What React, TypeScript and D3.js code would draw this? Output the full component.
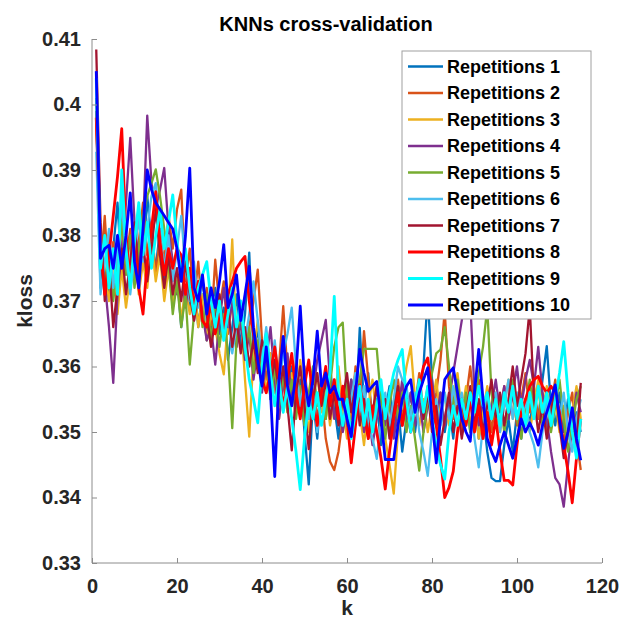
import { useEffect, useRef } from "react";
import * as d3 from "d3";

const TITLE = "KNNs cross-validation";
const X_LABEL = "k";
const Y_LABEL = "kloss";
const X_TICKS = [0, 20, 40, 60, 80, 100, 120];
const Y_TICKS = [0.33, 0.34, 0.35, 0.36, 0.37, 0.38, 0.39, 0.4, 0.41];

const SERIES_NAMES = [
  "Repetitions 1", "Repetitions 2", "Repetitions 3", "Repetitions 4", "Repetitions 5",
  "Repetitions 6", "Repetitions 7", "Repetitions 8", "Repetitions 9", "Repetitions 10",
];
const SERIES_COLORS = [
  "#0072BD", "#D95319", "#EDB120", "#7E2F8E", "#77AC30",
  "#4DBEEE", "#A2142F", "#FF0000", "#00FFFF", "#0000FF",
];

// kloss for k = 1..115, one array per repetition
const rep1 = [
  0.398, 0.372, 0.381, 0.371, 0.378, 0.385, 0.374, 0.380, 0.372, 0.378,
  0.383, 0.376, 0.386, 0.379, 0.375, 0.381, 0.372, 0.377, 0.369, 0.374,
  0.366, 0.372, 0.369, 0.374, 0.366, 0.371, 0.364, 0.369, 0.372, 0.365,
  0.369, 0.361, 0.366, 0.371, 0.363, 0.368, 0.3774, 0.362, 0.366, 0.358,
  0.363, 0.355, 0.361, 0.357, 0.364, 0.356, 0.360, 0.353, 0.358, 0.350,
  0.342, 0.355, 0.349, 0.357, 0.352, 0.360, 0.354, 0.349, 0.356, 0.351,
  0.358, 0.352, 0.3659, 0.354, 0.359, 0.351, 0.355, 0.348, 0.353, 0.357,
  0.350, 0.354, 0.347, 0.352, 0.356, 0.350, 0.355, 0.360, 0.371, 0.358,
  0.351, 0.356, 0.350, 0.354, 0.349, 0.355, 0.351, 0.356, 0.350, 0.355,
  0.349, 0.353, 0.347, 0.343, 0.3425, 0.3425, 0.348, 0.352, 0.347, 0.353,
  0.349, 0.355, 0.351, 0.356, 0.352, 0.358, 0.3631, 0.354, 0.351, 0.356,
  0.350, 0.355, 0.349, 0.353, 0.350,
];
const rep2 = [
  0.399, 0.375, 0.383, 0.372, 0.379, 0.371, 0.384, 0.376, 0.381, 0.373,
  0.379, 0.385, 0.377, 0.382, 0.374, 0.380, 0.376, 0.383, 0.378, 0.384,
  0.387, 0.373, 0.378, 0.370, 0.376, 0.368, 0.372, 0.366, 0.3763, 0.369,
  0.373, 0.365, 0.370, 0.363, 0.368, 0.361, 0.366, 0.370, 0.3748, 0.364,
  0.358, 0.362, 0.356, 0.360, 0.3692, 0.359, 0.354, 0.361, 0.355, 0.360,
  0.353, 0.358, 0.352, 0.356, 0.349, 0.3455, 0.3442, 0.347, 0.352, 0.357,
  0.352, 0.360, 0.355, 0.3654, 0.358, 0.352, 0.357, 0.351, 0.355, 0.350,
  0.354, 0.358, 0.352, 0.356, 0.350, 0.354, 0.359, 0.353, 0.357, 0.352,
  0.356, 0.361, 0.3685, 0.357, 0.352, 0.356, 0.350, 0.355, 0.360, 0.354,
  0.358, 0.352, 0.356, 0.350, 0.355, 0.353, 0.357, 0.352, 0.356, 0.351,
  0.355, 0.359, 0.353, 0.357, 0.352, 0.356, 0.350, 0.354, 0.358, 0.352,
  0.348, 0.353, 0.356, 0.349, 0.3442,
];
const rep3 = [
  0.397, 0.381, 0.374, 0.370, 0.377, 0.368, 0.375, 0.369, 0.374, 0.378,
  0.371, 0.376, 0.372, 0.379, 0.373, 0.377, 0.370, 0.375, 0.369, 0.374,
  0.367, 0.372, 0.368, 0.373, 0.366, 0.371, 0.364, 0.368, 0.366, 0.362,
  0.3588, 0.367, 0.3794, 0.364, 0.368, 0.358, 0.3493, 0.362, 0.367, 0.361,
  0.356, 0.362, 0.357, 0.352, 0.358, 0.353, 0.359, 0.355, 0.361, 0.356,
  0.350, 0.355, 0.359, 0.353, 0.357, 0.351, 0.355, 0.360, 0.354, 0.349,
  0.355, 0.359, 0.353, 0.348, 0.354, 0.358, 0.352, 0.356, 0.349, 0.345,
  0.3406, 0.350, 0.356, 0.360, 0.3631, 0.355, 0.351, 0.355, 0.350, 0.354,
  0.358, 0.352, 0.356, 0.351, 0.355, 0.359, 0.353, 0.357, 0.351, 0.355,
  0.349, 0.353, 0.357, 0.352, 0.356, 0.350, 0.354, 0.358, 0.352, 0.356,
  0.351, 0.355, 0.350, 0.354, 0.358, 0.353, 0.357, 0.351, 0.355, 0.350,
  0.354, 0.349, 0.353, 0.357, 0.352,
];
const rep4 = [
  0.399, 0.380, 0.373, 0.366, 0.3575, 0.371, 0.378, 0.385, 0.3949, 0.382,
  0.376, 0.381, 0.3983, 0.388, 0.384, 0.387, 0.3903, 0.381, 0.376, 0.371,
  0.376, 0.369, 0.374, 0.367, 0.372, 0.368, 0.364, 0.366, 0.3603, 0.367,
  0.372, 0.366, 0.370, 0.363, 0.367, 0.361, 0.365, 0.358, 0.363, 0.356,
  0.361, 0.366, 0.358, 0.352, 0.357, 0.362, 0.355, 0.359, 0.353, 0.357,
  0.352, 0.356, 0.361, 0.364, 0.3671, 0.358, 0.352, 0.356, 0.350, 0.354,
  0.358, 0.352, 0.356, 0.350, 0.353, 0.348, 0.352, 0.357, 0.351, 0.355,
  0.349, 0.353, 0.358, 0.352, 0.356, 0.351, 0.355, 0.350, 0.354, 0.358,
  0.352, 0.356, 0.351, 0.355, 0.359, 0.363, 0.367, 0.371, 0.370, 0.356,
  0.351, 0.355, 0.350, 0.354, 0.358, 0.353, 0.357, 0.352, 0.356, 0.360,
  0.354, 0.358, 0.361, 0.357, 0.363, 0.356, 0.352, 0.347, 0.343, 0.342,
  0.3386, 0.345, 0.351, 0.356, 0.353,
];
const rep5 = [
  0.401, 0.378, 0.372, 0.379, 0.370, 0.376, 0.382, 0.374, 0.380, 0.372,
  0.378, 0.383, 0.386, 0.388, 0.3901, 0.386, 0.381, 0.376, 0.368, 0.373,
  0.366, 0.371, 0.3603, 0.368, 0.373, 0.366, 0.371, 0.364, 0.369, 0.363,
  0.368, 0.362, 0.3506, 0.364, 0.369, 0.362, 0.366, 0.359, 0.364, 0.357,
  0.362, 0.355, 0.360, 0.354, 0.359, 0.353, 0.358, 0.352, 0.357, 0.351,
  0.356, 0.360, 0.354, 0.358, 0.352, 0.357, 0.363, 0.366, 0.3667, 0.355,
  0.350, 0.356, 0.358, 0.3627, 0.3627, 0.3627, 0.3627, 0.355, 0.349, 0.354,
  0.358, 0.352, 0.356, 0.350, 0.354, 0.349, 0.3441, 0.350, 0.355, 0.359,
  0.362, 0.3626, 0.366, 0.360, 0.354, 0.358, 0.352, 0.356, 0.350, 0.354,
  0.359, 0.363, 0.369, 0.356, 0.351, 0.355, 0.350, 0.354, 0.358, 0.352,
  0.349, 0.354, 0.358, 0.353, 0.357, 0.351, 0.355, 0.350, 0.354, 0.358,
  0.352, 0.347, 0.351, 0.355, 0.357,
];
const rep6 = [
  0.3928, 0.371, 0.376, 0.381, 0.372, 0.378, 0.385, 0.377, 0.371, 0.377,
  0.383, 0.376, 0.381, 0.386, 0.388, 0.380, 0.375, 0.380, 0.373, 0.378,
  0.383, 0.375, 0.370, 0.376, 0.369, 0.373, 0.367, 0.372, 0.365, 0.370,
  0.364, 0.369, 0.362, 0.366, 0.370, 0.364, 0.368, 0.373, 0.367, 0.361,
  0.366, 0.359, 0.364, 0.357, 0.362, 0.365, 0.369, 0.360, 0.354, 0.359,
  0.352, 0.357, 0.350, 0.355, 0.359, 0.353, 0.358, 0.352, 0.356, 0.351,
  0.355, 0.359, 0.353, 0.357, 0.351, 0.349, 0.3459, 0.352, 0.356, 0.351,
  0.355, 0.360, 0.358, 0.357, 0.352, 0.356, 0.350, 0.347, 0.3433, 0.350,
  0.355, 0.351, 0.356, 0.352, 0.357, 0.353, 0.356, 0.351, 0.355, 0.349,
  0.3446, 0.351, 0.355, 0.352, 0.356, 0.350, 0.354, 0.358, 0.352, 0.356,
  0.351, 0.355, 0.350, 0.348, 0.3446, 0.350, 0.355, 0.351, 0.356, 0.352,
  0.356, 0.350, 0.347, 0.352, 0.355,
];
const rep7 = [
  0.4084, 0.382, 0.370, 0.376, 0.366, 0.372, 0.378, 0.371, 0.376, 0.382,
  0.374, 0.379, 0.373, 0.378, 0.384, 0.377, 0.372, 0.377, 0.371, 0.375,
  0.370, 0.376, 0.371, 0.367, 0.371, 0.3733, 0.368, 0.363, 0.367, 0.371,
  0.365, 0.369, 0.363, 0.367, 0.362, 0.366, 0.360, 0.364, 0.359, 0.364,
  0.362, 0.357, 0.361, 0.356, 0.360, 0.354, 0.3472, 0.356, 0.360, 0.354,
  0.3474, 0.355, 0.359, 0.354, 0.358, 0.352, 0.356, 0.351, 0.355, 0.359,
  0.353, 0.357, 0.351, 0.355, 0.349, 0.353, 0.357, 0.351, 0.355, 0.349,
  0.353, 0.357, 0.351, 0.355, 0.350, 0.354, 0.358, 0.352, 0.356, 0.350,
  0.354, 0.348, 0.352, 0.356, 0.350, 0.354, 0.349, 0.353, 0.357, 0.351,
  0.355, 0.350, 0.354, 0.358, 0.352, 0.356, 0.351, 0.355, 0.360, 0.354,
  0.358, 0.362, 0.369, 0.355, 0.350, 0.354, 0.349, 0.353, 0.357, 0.351,
  0.346, 0.350, 0.353, 0.348, 0.3575,
];
const rep8 = [
  0.398, 0.378, 0.371, 0.377, 0.383, 0.389, 0.3963, 0.380, 0.373, 0.379,
  0.372, 0.368, 0.376, 0.381, 0.3867, 0.379, 0.374, 0.378, 0.375, 0.378,
  0.377, 0.371, 0.375, 0.369, 0.373, 0.367, 0.366, 0.370, 0.365, 0.368,
  0.366, 0.371, 0.373, 0.375, 0.376, 0.3768, 0.370, 0.365, 0.361, 0.358,
  0.356, 0.359, 0.363, 0.358, 0.354, 0.358, 0.362, 0.356, 0.352, 0.357,
  0.361, 0.355, 0.351, 0.356, 0.360, 0.354, 0.358, 0.352, 0.357, 0.352,
  0.3453, 0.351, 0.3572, 0.353, 0.349, 0.354, 0.350, 0.346, 0.3413, 0.347,
  0.352, 0.356, 0.351, 0.355, 0.350, 0.354, 0.357, 0.360, 0.3613, 0.356,
  0.351, 0.346, 0.340, 0.3415, 0.344, 0.350, 0.355, 0.351, 0.355, 0.350,
  0.354, 0.349, 0.353, 0.348, 0.352, 0.347, 0.3426, 0.3426, 0.3419, 0.348,
  0.353, 0.355, 0.357, 0.358, 0.3585, 0.357, 0.356, 0.357, 0.356, 0.353,
  0.348, 0.344, 0.3392, 0.346, 0.352,
];
const rep9 = [
  0.404, 0.375, 0.380, 0.372, 0.378, 0.371, 0.390, 0.378, 0.372, 0.379,
  0.385, 0.377, 0.382, 0.375, 0.380, 0.384, 0.378, 0.382, 0.3862, 0.379,
  0.374, 0.378, 0.372, 0.368, 0.372, 0.374, 0.376, 0.370, 0.366, 0.370,
  0.364, 0.368, 0.372, 0.366, 0.370, 0.363, 0.358, 0.355, 0.3514, 0.360,
  0.365, 0.359, 0.354, 0.358, 0.353, 0.357, 0.352, 0.347, 0.3412, 0.349,
  0.355, 0.352, 0.356, 0.351, 0.355, 0.359, 0.3707, 0.356, 0.351, 0.355,
  0.349, 0.353, 0.357, 0.351, 0.355, 0.350, 0.354, 0.358, 0.352, 0.356,
  0.359, 0.361, 0.3626, 0.355, 0.350, 0.354, 0.358, 0.353, 0.357, 0.352,
  0.348, 0.345, 0.3428, 0.350, 0.354, 0.351, 0.355, 0.352, 0.356, 0.353,
  0.357, 0.354, 0.356, 0.352, 0.355, 0.351, 0.356, 0.353, 0.357, 0.352,
  0.355, 0.351, 0.356, 0.352, 0.357, 0.353, 0.356, 0.351, 0.355, 0.359,
  0.3638, 0.356, 0.350, 0.346, 0.352,
];
const rep10 = [
  0.4051, 0.3765, 0.378, 0.3785, 0.375, 0.380, 0.375, 0.380, 0.3865, 0.376,
  0.372, 0.381, 0.390, 0.387, 0.385, 0.384, 0.383, 0.382, 0.381, 0.378,
  0.373, 0.380, 0.3903, 0.372, 0.370, 0.374, 0.368, 0.372, 0.369, 0.373,
  0.3786, 0.369, 0.371, 0.374, 0.367, 0.371, 0.3753, 0.366, 0.361, 0.357,
  0.363, 0.356, 0.3432, 0.358, 0.3646, 0.357, 0.354, 0.359, 0.3692, 0.358,
  0.354, 0.358, 0.3654, 0.357, 0.359, 0.356, 0.357, 0.355, 0.355, 0.352,
  0.3493, 0.356, 0.3626, 0.359, 0.3562, 0.357, 0.3577, 0.352, 0.3458, 0.3458,
  0.3458, 0.351, 0.355, 0.357, 0.358, 0.353, 0.356, 0.358, 0.3598, 0.352,
  0.3453, 0.352, 0.358, 0.359, 0.3598, 0.356, 0.352, 0.350, 0.3486, 0.356,
  0.3626, 0.355, 0.349, 0.347, 0.3455, 0.348, 0.350, 0.348, 0.346, 0.349,
  0.352, 0.350, 0.3514, 0.350, 0.348, 0.351, 0.353, 0.355, 0.3572, 0.352,
  0.3475, 0.350, 0.3537, 0.349, 0.3457,
];
const SERIES = [rep1, rep2, rep3, rep4, rep5, rep6, rep7, rep8, rep9, rep10];
const LINE_WIDTHS = [2.3, 2.3, 2.3, 2.3, 2.3, 2.3, 2.3, 2.8, 2.8, 2.8];

const FONT = "'Liberation Sans', Arial, Helvetica, sans-serif";
const AXIS_STROKE = "#8c8c8c";
const TEXT_FILL = "#262626";

export default function App() {
  const ref = useRef<SVGSVGElement | null>(null);

  useEffect(() => {
    const el = ref.current;
    if (!el) return;
    const svg = d3.select(el);
    svg.selectAll("*").remove();

    const W = 624;
    const H = 625;
    const plot = { left: 92, right: 602, top: 39, bottom: 563 };

    const x = d3.scaleLinear().domain([0, 120]).range([plot.left, plot.right]);
    const y = d3.scaleLinear().domain([0.33, 0.41]).range([plot.bottom, plot.top]);

    svg.attr("width", W).attr("height", H).attr("viewBox", `0 0 ${W} ${H}`);
    svg.append("rect").attr("width", W).attr("height", H).attr("fill", "#fff");

    // series lines
    const line = d3
      .line<number>()
      .x((_, i) => x(i + 1))
      .y((d) => y(d));

    const lines = svg.append("g").attr("fill", "none").attr("stroke-linejoin", "round");
    SERIES.forEach((vals, i) => {
      lines
        .append("path")
        .attr("d", line(vals))
        .attr("stroke", SERIES_COLORS[i])
        .attr("stroke-width", LINE_WIDTHS[i]);
    });

    // axes: only left and bottom, ticks pointing inward
    const yAxis = d3
      .axisRight(y)
      .tickValues(Y_TICKS)
      .tickSize(5)
      .tickFormat((d) => String(d));
    const gy = svg
      .append("g")
      .attr("transform", `translate(${plot.left},0)`)
      .call(yAxis);
    gy.select(".domain").attr("stroke", AXIS_STROKE).attr("d", `M0,${plot.top}V${plot.bottom}`);
    gy.selectAll(".tick line").attr("stroke", AXIS_STROKE);
    gy.selectAll(".tick text")
      .attr("x", -11)
      .attr("text-anchor", "end")
      .attr("fill", TEXT_FILL)
      .attr("font-family", FONT)
      .attr("font-weight", 700)
      .attr("font-size", 20);

    const xAxis = d3
      .axisTop(x)
      .tickValues(X_TICKS)
      .tickSize(5)
      .tickFormat((d) => String(d));
    const gx = svg
      .append("g")
      .attr("transform", `translate(0,${plot.bottom})`)
      .call(xAxis);
    gx.select(".domain").attr("stroke", AXIS_STROKE).attr("d", `M${plot.left},0H${plot.right}`);
    gx.selectAll(".tick line").attr("stroke", AXIS_STROKE);
    gx.selectAll(".tick text")
      .attr("y", 30)
      .attr("fill", TEXT_FILL)
      .attr("font-family", FONT)
      .attr("font-weight", 700)
      .attr("font-size", 20);

    // title and axis labels
    svg
      .append("text")
      .attr("x", 326)
      .attr("y", 31)
      .attr("text-anchor", "middle")
      .attr("fill", "#000")
      .attr("font-family", FONT)
      .attr("font-weight", 700)
      .attr("font-size", 20)
      .text(TITLE);

    svg
      .append("text")
      .attr("x", (plot.left + plot.right) / 2)
      .attr("y", 615)
      .attr("text-anchor", "middle")
      .attr("fill", TEXT_FILL)
      .attr("font-family", FONT)
      .attr("font-weight", 700)
      .attr("font-size", 21)
      .text(X_LABEL);

    svg
      .append("text")
      .attr("transform", `translate(32,${(plot.top + plot.bottom) / 2}) rotate(-90)`)
      .attr("text-anchor", "middle")
      .attr("fill", TEXT_FILL)
      .attr("font-family", FONT)
      .attr("font-weight", 700)
      .attr("font-size", 21)
      .text(Y_LABEL);

    // legend box drawn on top of the lines
    const legend = { x: 402, y: 51, w: 189, h: 268, row: 26.5, first: 66.5 };
    const lg = svg.append("g");
    lg.append("rect")
      .attr("x", legend.x)
      .attr("y", legend.y)
      .attr("width", legend.w)
      .attr("height", legend.h)
      .attr("fill", "#fff")
      .attr("stroke", "#a0a0a0")
      .attr("stroke-width", 1);

    SERIES_NAMES.forEach((name, i) => {
      const cy = legend.first + i * legend.row;
      lg.append("line")
        .attr("x1", 408)
        .attr("x2", 443)
        .attr("y1", cy)
        .attr("y2", cy)
        .attr("stroke", SERIES_COLORS[i])
        .attr("stroke-width", LINE_WIDTHS[i]);
      lg.append("text")
        .attr("x", 447)
        .attr("y", cy)
        .attr("dominant-baseline", "central")
        .attr("fill", "#000")
        .attr("font-family", FONT)
        .attr("font-weight", 700)
        .attr("font-size", 18)
        .text(name);
    });
  }, []);

  return (
    <>
      <style>{"body{margin:0}"}</style>
      <svg ref={ref} />
    </>
  );
}
